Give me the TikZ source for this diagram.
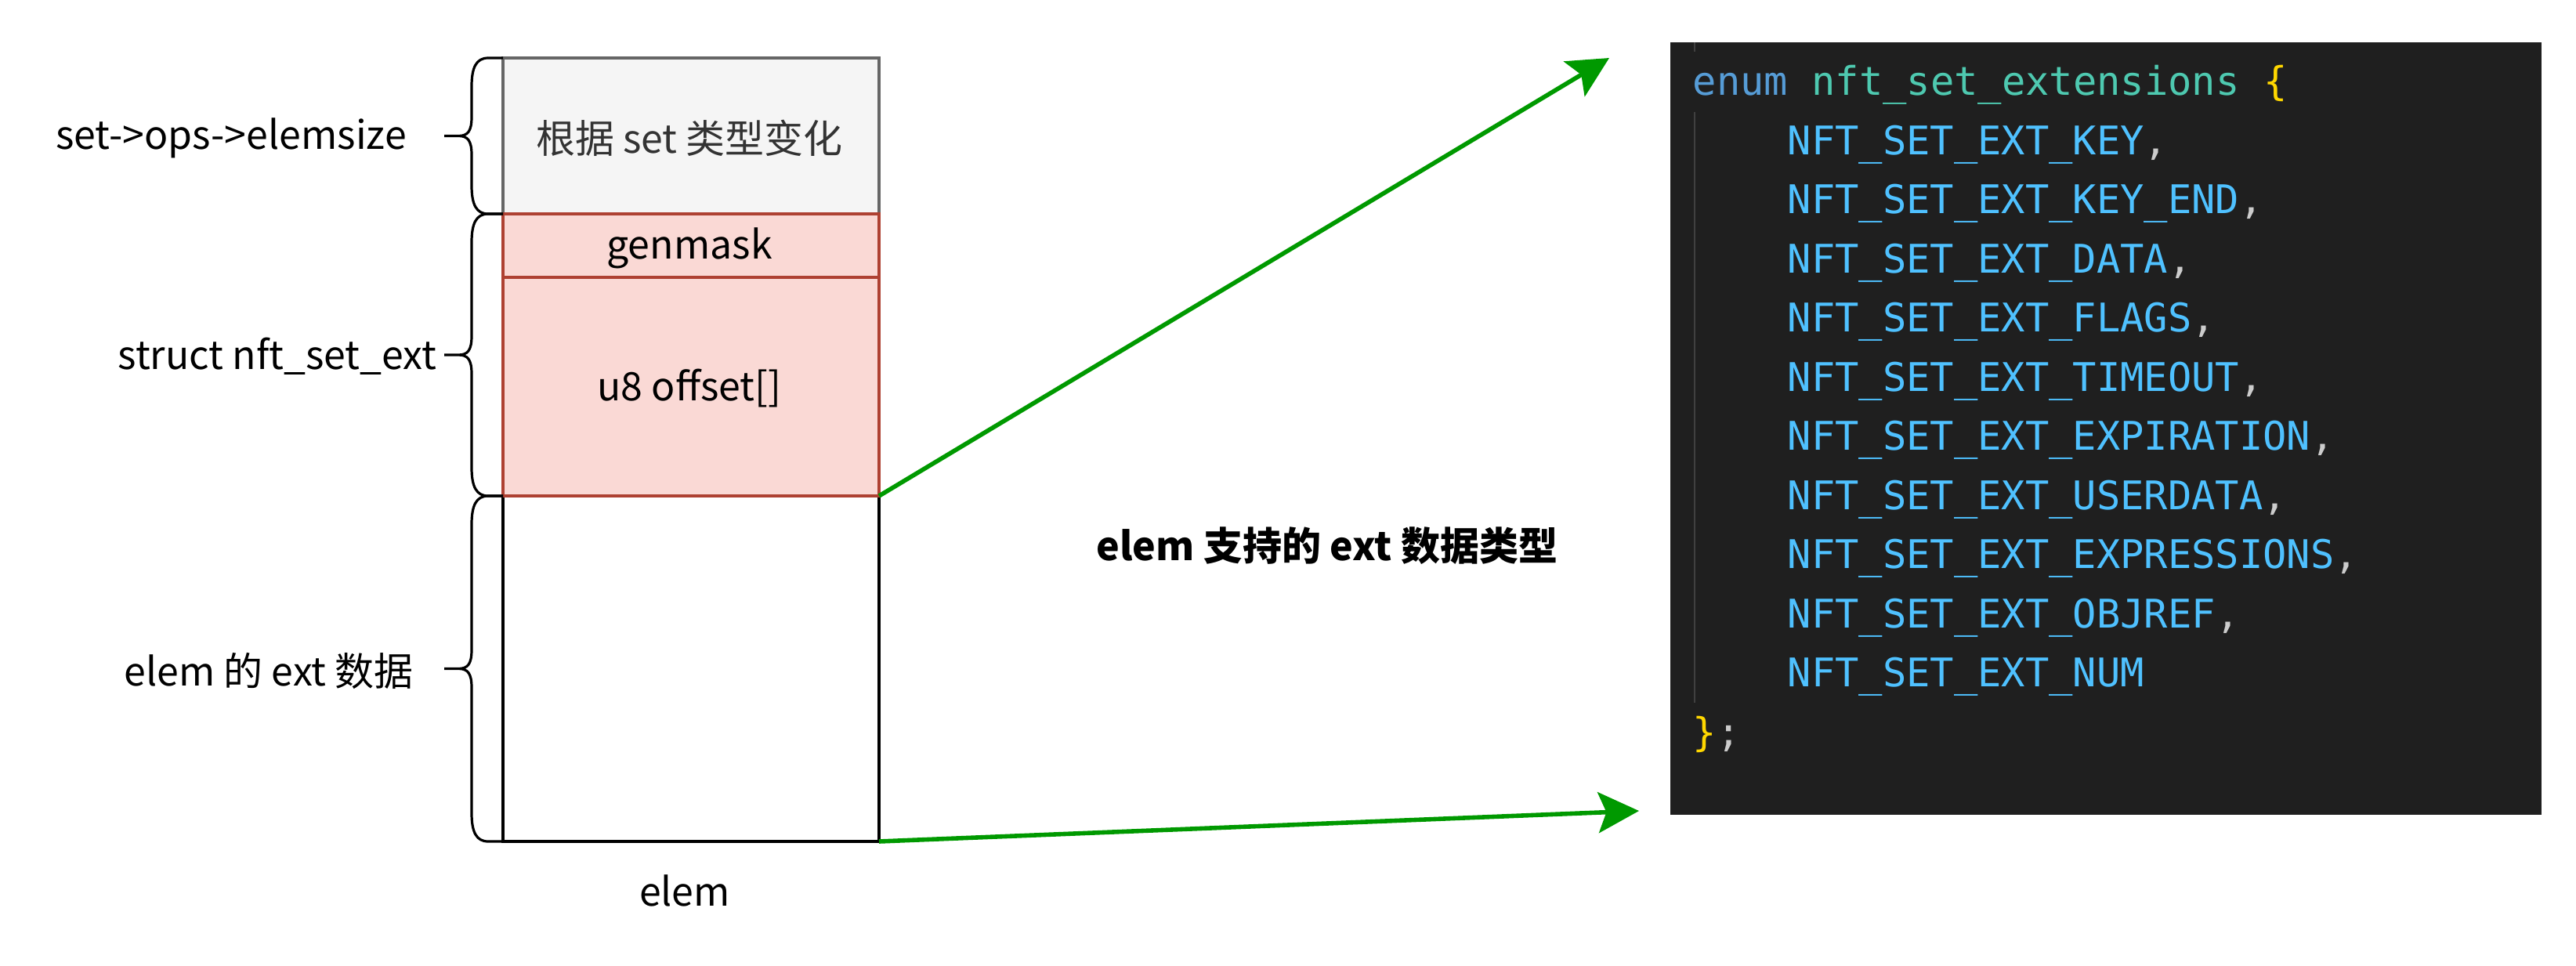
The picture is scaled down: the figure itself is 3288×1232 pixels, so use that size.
\documentclass[tikz,border=0pt]{standalone}
\usepackage{fontspec}
\setmainfont{Noto Sans CJK SC}
\newfontfamily\codefont{DejaVu Sans Mono}
\usetikzlibrary{arrows.meta,fit}
\definecolor{grayfill}{HTML}{F5F5F5}
\definecolor{grayline}{HTML}{666666}
\definecolor{graytext}{HTML}{333333}
\definecolor{pinkfill}{HTML}{FAD9D5}
\definecolor{redline}{HTML}{AE4132}
\definecolor{arrowgreen}{HTML}{009900}
\definecolor{codebg}{HTML}{1F1F1F}
\definecolor{guide}{HTML}{404040}
\definecolor{kw}{HTML}{569CD6}
\definecolor{typ}{HTML}{4EC9B0}
\definecolor{brk}{HTML}{FFD700}
\definecolor{cst}{HTML}{4FC1FF}
\definecolor{punc}{HTML}{CCCCCC}
\begin{document}
\begin{tikzpicture}[x=0.25pt,y=-0.25pt,
  box/.style={inner sep=0pt, outer sep=0pt, line width=0.8pt},
  graybox/.style={box, draw=grayline, fill=grayfill},
  pinkbox/.style={box, draw=redline, fill=pinkfill},
  whitebox/.style={box, draw=black, fill=white},
  lab/.style={inner sep=0pt, font=\fontsize{12.5pt}{15pt}\selectfont},
  brace/.style={line width=0.8pt, draw=black},
  garrow/.style={draw=arrowgreen, line width=1.4pt, -{Stealth[length=13pt,width=13pt,inset=2.6pt]}},
  code/.style={anchor=base west, inner sep=0pt, text=cst, font=\codefont\fontsize{12.6pt}{15pt}\selectfont},
  guideline/.style={draw=guide, line width=0.5pt}
]
\useasboundingbox (0,0) rectangle (3288,1232);

% memory layout boxes
\node[whitebox, fit={(642,633) (1122,1074)}] (elembox) {};
\node[graybox, fit={(642,74) (1122,273)}] (gray) {};
\node[pinkbox, fit={(642,273) (1122,354)}] (genmask) {};
\node[pinkbox, fit={(642,354) (1122,633)}] (offset) {};
\node[lab, text=graytext] (graytxt) at (880,176) {根据 set 类型变化};
\node[lab] (genmasktxt) at (880,317) {genmask};
\node[lab] (offsettxt) at (880,496) {u8 offset[]};
\node[lab] (elemlbl) at (874,1137) {elem};

% braces
\foreach \a/\b in {74/273, 273/633, 633/1074} {
  \pgfmathsetmacro{\m}{(\a+\b)/2}
  \draw[brace] (642,\a) -- (623,\a) .. controls (608,\a) and (602,\a+12) .. (602,\a+36)
    -- (602,\m-24) .. controls (602,\m-6) and (597,\m) .. (585,\m) -- (567,\m)
    (585,\m) .. controls (597,\m) and (602,\m+6) .. (602,\m+24)
    -- (602,\b-36) .. controls (602,\b-12) and (608,\b) .. (623,\b) -- (642,\b);
}

% left labels
\node[lab] (l1) at (295,176) {set->ops->elemsize};
\node[lab, anchor=east] (l2) at (558,455) {struct nft\_set\_ext};
\node[lab] (l3) at (343,856) {elem 的 ext 数据};

% middle label
\node[lab, font=\fontsize{12.5pt}{15pt}\selectfont\bfseries] (mid) at (1694,697) {elem 支持的 ext 数据类型};

% code panel
\node[fill=codebg, inner sep=0pt, outer sep=0pt, fit={(2132,54) (3244,1040)}] (panel) {};
\draw[guideline] (2163,54) -- (2163,66);
\draw[guideline] (2163,143) -- (2163,897);
\node[code] (c0) at (2160,121) {{\color{kw}enum} {\color{typ}nft\_set\_extensions} {\color{brk}\{}};
\node[code] (c1) at (2281,197) {NFT\_SET\_EXT\_KEY{\color{punc},}};
\node[code] (c2) at (2281,272.5) {NFT\_SET\_EXT\_KEY\_END{\color{punc},}};
\node[code] (c3) at (2281,348) {NFT\_SET\_EXT\_DATA{\color{punc},}};
\node[code] (c4) at (2281,423.5) {NFT\_SET\_EXT\_FLAGS{\color{punc},}};
\node[code] (c5) at (2281,499) {NFT\_SET\_EXT\_TIMEOUT{\color{punc},}};
\node[code] (c6) at (2281,574.5) {NFT\_SET\_EXT\_EXPIRATION{\color{punc},}};
\node[code] (c7) at (2281,650) {NFT\_SET\_EXT\_USERDATA{\color{punc},}};
\node[code] (c8) at (2281,725.5) {NFT\_SET\_EXT\_EXPRESSIONS{\color{punc},}};
\node[code] (c9) at (2281,801) {NFT\_SET\_EXT\_OBJREF{\color{punc},}};
\node[code] (c10) at (2281,876.5) {NFT\_SET\_EXT\_NUM};
\node[code] (c11) at (2160,952) {{\color{brk}\}}{\color{punc};}};

% arrows
\coordinate (t1) at (2054,74);
\coordinate (t2) at (2092,1035);
\draw[garrow] (offset.south east) -- (t1);
\draw[garrow] (elembox.south east) -- (t2);
\end{tikzpicture}
\end{document}
